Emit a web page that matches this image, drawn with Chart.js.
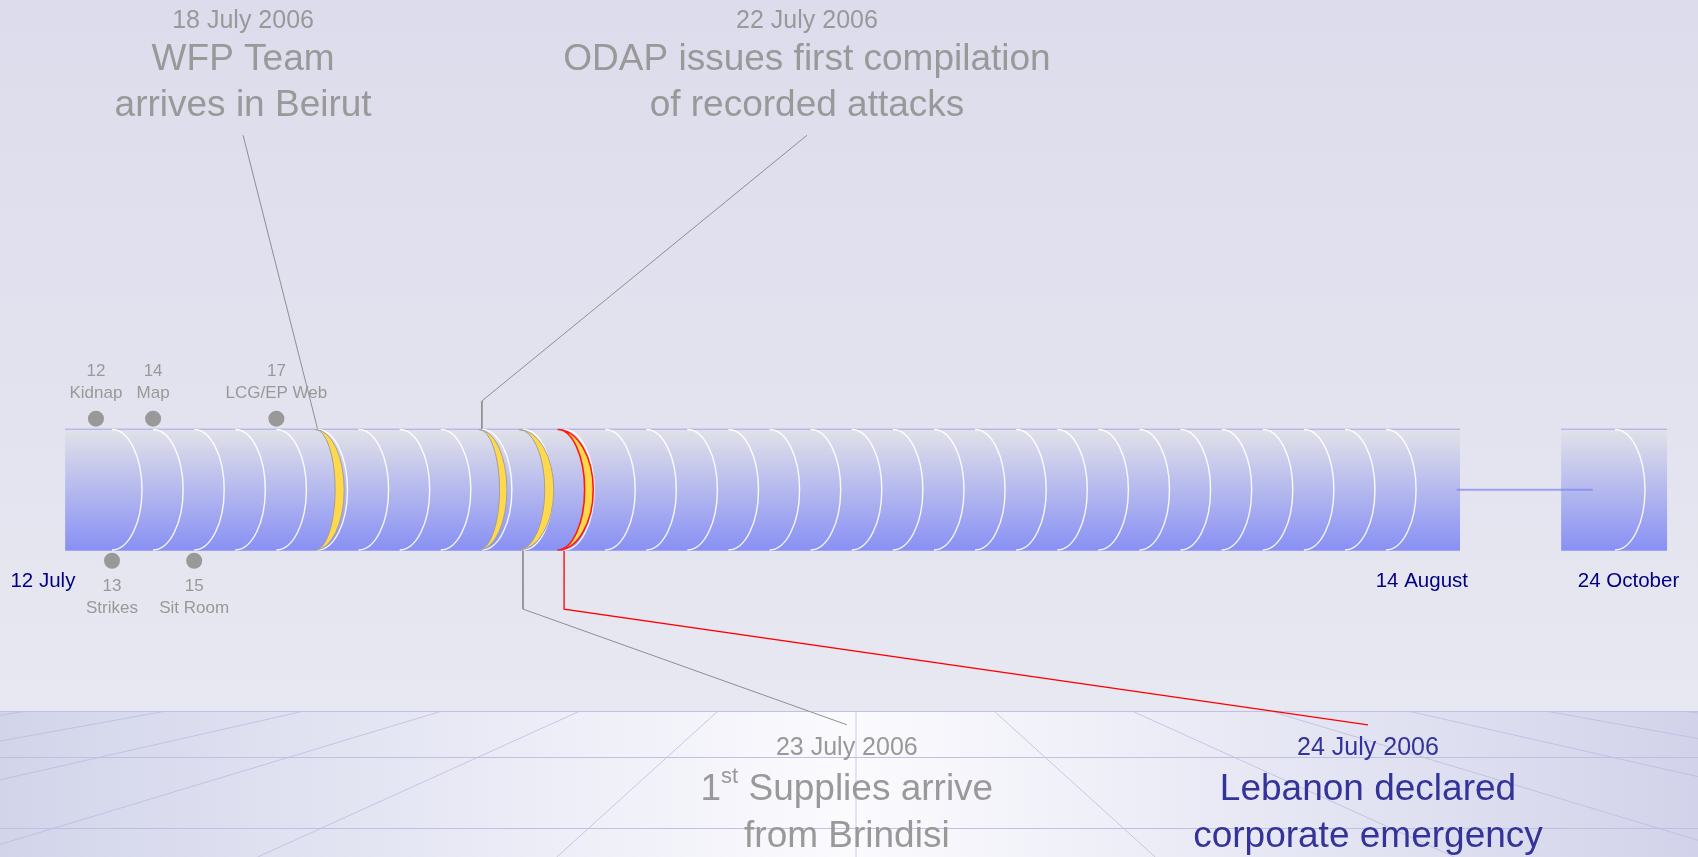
<!DOCTYPE html>
<html>
<head>
<meta charset="utf-8">
<title>Lebanon timeline, July 2006</title>
<script src="https://cdn.jsdelivr.net/npm/chart.js@4.4.1/dist/chart.umd.min.js"></script>
<style>
  html, body { margin: 0; padding: 0; background: #e2e2ef; overflow: hidden; }
  canvas { display: block; }
</style>
</head>
<body>
<canvas id="timeline" width="1698" height="857"></canvas>
<script>
// Days are counted from 1 July 2006, so 14 August = 45.
// The weeks between mid August and late October are squeezed into a short gap.
var segmentStart = [11.86, 48.26];
var segmentEnd = [45.8, 50.84];
var gapLine = [45.72, 49.03];
var dayLines = [13, 14, 15, 16, 17, 18, 19, 20, 21, 22, 23, 24, 25, 26, 27, 28,
                29, 30, 31, 32, 33, 34, 35, 36, 37, 38, 39, 40, 41, 42, 43, 44, 49.57];
var tickValues = [11.32, 44.87, 49.9];
var tickLabels = ['12 July', '14 August', '24 October'];

// Small events along the bar
var markerDays = [12.61, 13, 14, 15, 17];
var markerNumbers = ['12', '13', '14', '15', '17'];
var markerNames = ['Kidnap', 'Strikes', 'Map', 'Sit Room', 'LCG/EP Web'];
var markerSides = [1, -1, 1, -1, 1]; // 1 = above the bar, -1 = below

// Key events
var eventDays = [18, 22, 23, 24];
var eventDates = ['18 July 2006', '22 July 2006', '23 July 2006', '24 July 2006'];
var eventTitles = [
    ['WFP Team', 'arrives in Beirut'],
    ['ODAP issues first compilation', 'of recorded attacks'],
    ['1st Supplies arrive', 'from Brindisi'],
    ['Lebanon declared', 'corporate emergency']
];
var eventSides = [1, 1, -1, -1];
var emergencyDay = 24;

// Where the callouts sit (x in days, y in bar half-heights)
var layout = {
    labelX: [16.19, 29.91, 30.88, 43.56],
    elbow: [null, 1.45, -1.95, -1.95],
    leaderEnd: 5.79,
    leaderEndBelow: -3.84,
    textTop: [7.65, 7.02, 6.27],
    textBottom: [-4.22, -4.91, -5.67],
    markerY: 1.16,
    markerNear: 1.58,
    markerFar: 1.94,
    arcDepth: 0.73,
    crescentShift: [-0.05, -0.07, -0.1, -0.16],
    crescentOuter: [0.7, 0.68, 0.85, 0.87],
    crescentInner: [0.48, 0.5, 0.63, 0.66]
};

var FONT = '"Liberation Sans", Arial, sans-serif';
var GREY = '#999999';
var BLUE_TEXT = '#333399';

// Bar fill, light grey on top to blue at the bottom
function barGradient(context) {
    var chart = context.chart;
    if (!chart.chartArea) return '#b8bcee';
    var y = chart.scales.y;
    var g = chart.ctx.createLinearGradient(0, y.getPixelForValue(1), 0, y.getPixelForValue(-1));
    g.addColorStop(0, '#e2e2e8');
    g.addColorStop(1, '#8890f4');
    return g;
}

// Leader line from a callout to its day on the bar
function leaderPoints(i) {
    var d = eventDays[i];
    var pts = [];
    if (eventSides[i] > 0) {
        pts.push({ x: layout.labelX[i], y: layout.leaderEnd });
        if (layout.elbow[i] !== null) pts.push({ x: d, y: layout.elbow[i] });
        pts.push({ x: d, y: 1 });
    } else {
        pts.push({ x: d, y: -1 });
        if (layout.elbow[i] !== null) pts.push({ x: d, y: layout.elbow[i] });
        pts.push({ x: layout.labelX[i], y: layout.leaderEndBelow });
    }
    return pts;
}

var datasets = [];

for (var s = 0; s < segmentStart.length; s++) {
    datasets.push({
        type: 'bar',
        segment: s,
        indexAxis: 'y',
        data: [{ y: 0, x: [segmentStart[s], segmentEnd[s]] }],
        backgroundColor: barGradient,
        borderColor: '#8a90ee',
        borderWidth: { top: 1, right: 0, bottom: 0, left: 0 },
        borderSkipped: false,
        barThickness: 122,
        grouped: false,
        order: 5
    });
}

// line across the break
datasets.push({
    type: 'line',
    data: [{ x: gapLine[0], y: 0 }, { x: gapLine[1], y: 0 }],
    borderColor: 'rgba(128,136,240,0.75)',
    borderWidth: 2,
    pointRadius: 0,
    order: 1
});

for (var i = 0; i < eventDays.length; i++) {
    datasets.push({
        type: 'line',
        data: leaderPoints(i),
        borderColor: eventDays[i] === emergencyDay ? '#ff0000' : '#8f8f8f',
        borderWidth: eventDays[i] === emergencyDay ? 1.3 : 1,
        pointRadius: 0,
        tension: 0,
        order: 1
    });
}

datasets.push({
    type: 'scatter',
    data: markerDays.map(function(d, k) {
        return { x: d, y: markerSides[k] * layout.markerY };
    }),
    backgroundColor: GREY,
    borderWidth: 0,
    pointRadius: 8,
    order: 1
});

// Background: lavender wall and a perspective floor
var backdrop = {
    id: 'backdrop',
    beforeDraw: function(chart) {
        var c = chart.ctx, w = chart.width, h = chart.height;
        var floorTop = 711, vpX = 856, vpY = 586, step = 138;
        c.save();
        var wall = c.createLinearGradient(0, 0, 0, floorTop);
        wall.addColorStop(0, '#dcdcec');
        wall.addColorStop(1, '#e8e8f2');
        c.fillStyle = wall;
        c.fillRect(0, 0, w, floorTop);

        var floor = c.createLinearGradient(0, 0, w, 0);
        floor.addColorStop(0, '#d2d4ea');
        floor.addColorStop(0.5, '#fbfbfe');
        floor.addColorStop(1, '#d2d3ea');
        c.fillStyle = floor;
        c.fillRect(0, floorTop, w, h - floorTop);

        c.beginPath();
        c.rect(0, floorTop, w, h - floorTop);
        c.clip();
        c.lineWidth = 1;
        c.strokeStyle = 'rgba(185,185,225,0.75)';
        for (var k = -16; k <= 16; k++) {
            var x0 = vpX + k * step;
            var x1 = vpX + k * step * (h - vpY) / (floorTop - vpY);
            c.beginPath();
            c.moveTo(x0, floorTop);
            c.lineTo(x1, h);
            c.stroke();
        }
        c.strokeStyle = 'rgba(190,190,225,0.95)';
        [711.5, 757.5, 828.5].forEach(function(y) {
            c.beginPath();
            c.moveTo(0, y);
            c.lineTo(w, y);
            c.stroke();
        });
        c.restore();
    }
};

// Day separators drawn as half ellipses on each bar segment
var dayArcs = {
    id: 'dayArcs',
    afterDatasetDraw: function(chart, args) {
        var ds = chart.data.datasets[args.index];
        if (ds.type !== 'bar') return;
        var xs = chart.scales.x, ys = chart.scales.y, c = chart.ctx;
        var lo = segmentStart[ds.segment], hi = segmentEnd[ds.segment];
        var top = ys.getPixelForValue(1), bot = ys.getPixelForValue(-1);
        var yc = (top + bot) / 2, b = (bot - top) / 2 - 1;
        c.save();
        c.strokeStyle = 'rgba(255,255,255,0.92)';
        c.lineWidth = 1.4;
        dayLines.forEach(function(d) {
            if (d < lo || d > hi) return;
            var x0 = xs.getPixelForValue(d);
            var a = xs.getPixelForValue(d + layout.arcDepth) - x0;
            c.beginPath();
            c.ellipse(x0, yc, a, b, 0, -Math.PI / 2, Math.PI / 2);
            c.stroke();
        });
        // highlighted days
        eventDays.forEach(function(d, i) {
            if (d < lo || d > hi) return;
            var start = d + layout.crescentShift[i];
            var x0 = xs.getPixelForValue(start);
            var ao = xs.getPixelForValue(start + layout.crescentOuter[i]) - x0;
            var ai = xs.getPixelForValue(start + layout.crescentInner[i]) - x0;
            c.beginPath();
            c.ellipse(x0, yc, ao, b, 0, -Math.PI / 2, Math.PI / 2, false);
            c.ellipse(x0, yc, ai, b, 0, Math.PI / 2, -Math.PI / 2, true);
            c.closePath();
            c.fillStyle = '#ffd84c';
            c.fill();
            c.strokeStyle = d === emergencyDay ? '#ff1a1a' : '#a0a0a0';
            c.lineWidth = d === emergencyDay ? 1.6 : 1;
            c.stroke();
        });
        c.restore();
    }
};

function drawTitleLine(c, text, x, y, size) {
    var m = /^(\d+)(st|nd|rd|th)(\s.*)$/.exec(text);
    var big = size + 'px ' + FONT;
    c.textBaseline = 'middle';
    if (!m) {
        c.font = big;
        c.textAlign = 'center';
        c.fillText(text, x, y);
        return;
    }
    var small = Math.round(size * 0.6) + 'px ' + FONT;
    c.font = big;
    var w1 = c.measureText(m[1]).width, w3 = c.measureText(m[3]).width;
    c.font = small;
    var w2 = c.measureText(m[2]).width;
    var left = x - (w1 + w2 + w3) / 2;
    c.textAlign = 'left';
    c.font = big;
    c.fillText(m[1], left, y);
    c.font = small;
    c.fillText(m[2], left + w1, y - size * 0.36);
    c.font = big;
    c.fillText(m[3], left + w1 + w2, y);
}

// Callout texts and the little marker labels
var callouts = {
    id: 'callouts',
    afterDraw: function(chart) {
        var xs = chart.scales.x, ys = chart.scales.y, c = chart.ctx;
        c.save();
        eventDays.forEach(function(d, i) {
            var x = xs.getPixelForValue(layout.labelX[i]);
            var rows = eventSides[i] > 0 ? layout.textTop : layout.textBottom;
            c.fillStyle = d === emergencyDay ? BLUE_TEXT : GREY;
            c.font = '25px ' + FONT;
            c.textAlign = 'center';
            c.textBaseline = 'middle';
            c.fillText(eventDates[i], x, ys.getPixelForValue(rows[0]));
            eventTitles[i].forEach(function(line, j) {
                drawTitleLine(c, line, x, ys.getPixelForValue(rows[j + 1]), 37);
            });
        });

        c.fillStyle = GREY;
        c.font = '17px ' + FONT;
        c.textAlign = 'center';
        c.textBaseline = 'middle';
        markerDays.forEach(function(d, k) {
            var x = xs.getPixelForValue(d);
            var side = markerSides[k];
            var numY = side > 0 ? layout.markerFar : -layout.markerNear;
            var nameY = side > 0 ? layout.markerNear : -layout.markerFar;
            c.fillText(markerNumbers[k], x, ys.getPixelForValue(numY));
            c.fillText(markerNames[k], x, ys.getPixelForValue(nameY));
        });
        c.restore();
    }
};

var chart = new Chart(document.getElementById('timeline'), {
    type: 'bar',
    data: { datasets: datasets },
    plugins: [backdrop, dayArcs, callouts],
    options: {
        responsive: false,
        animation: false,
        events: [],
        layout: { padding: 0, autoPadding: false },
        plugins: {
            legend: { display: false },
            tooltip: { enabled: false }
        },
        scales: {
            x: {
                type: 'linear',
                min: 10.275,
                max: 51.59,
                offset: false,
                position: { y: -1 },
                grid: { display: false, drawTicks: false },
                border: { display: false },
                afterBuildTicks: function(scale) {
                    scale.ticks = tickValues.map(function(v) { return { value: v }; });
                },
                afterFit: function(scale) {
                    scale.paddingLeft = 0;
                    scale.paddingRight = 0;
                },
                ticks: {
                    autoSkip: false,
                    maxRotation: 0,
                    padding: 18,
                    color: '#000080',
                    font: { family: FONT, size: 20.5 },
                    callback: function(value, index) { return tickLabels[index]; }
                }
            },
            y: {
                type: 'linear',
                min: -6,
                max: 8,
                offset: false,
                display: false
            }
        }
    }
});
</script>
</body>
</html>
